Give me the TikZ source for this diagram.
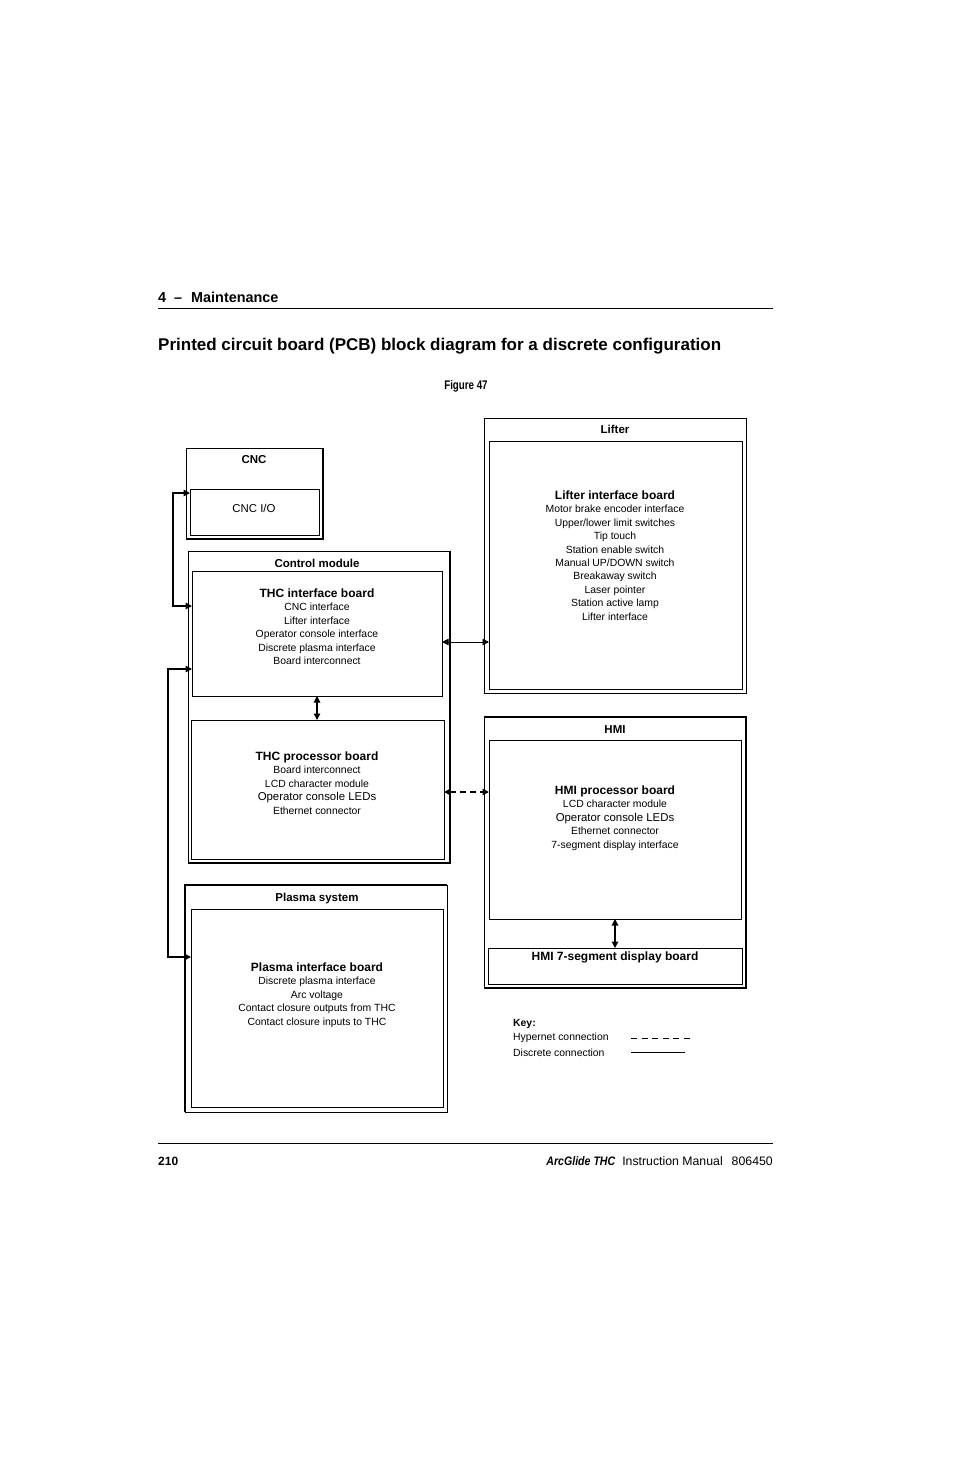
\documentclass[tikz,border=0pt]{standalone}
\usepackage{fontspec}
\setmainfont{Liberation Sans}
\usetikzlibrary{arrows.meta,positioning,calc}

\tikzset{
	board/.style={draw, line width=0.8pt, anchor=north west, inner sep=0pt, outer sep=0pt},
	module/.style={draw, line width=1pt, anchor=north west, inner sep=0pt, outer sep=0pt},
	heavy/.style={line width=2pt},
	boxlabel/.style={font=\fontsize{11.5}{13}\selectfont\bfseries},
	boardtext/.style={anchor=north, align=center, inner sep=0pt, font=\fontsize{10.4}{13.4}\selectfont},
	keytext/.style={anchor=west, inner sep=0pt, font=\fontsize{10.4}{12}\selectfont},
	discrete/.style={line width=1.2pt, {Triangle[length=6.5pt,width=6.5pt]}-{Triangle[length=6.5pt,width=6.5pt]}},
	hypernet/.style={discrete, dash pattern=on 6pt off 4pt},
}
\newcommand{\boardtitle}[1]{{\fontsize{12}{13.4}\selectfont\bfseries #1}}
\newcommand{\bigline}[1]{{\fontsize{11.4}{13.4}\selectfont #1}}

\begin{document}
\begin{tikzpicture}[x=1pt, y=-1pt]
	\fill[white] (0,0) rectangle (954,1475);
	\useasboundingbox (0,0) rectangle (954,1475);
	% page header
	\node[anchor=west, inner sep=0pt, font=\fontsize{14.4}{16}\selectfont\bfseries] (chapter) at (158,297) {4\hspace{8pt}–\hspace{9pt}Maintenance};
	\draw[line width=0.8pt] (158,308) -- (773,308);
	\node[anchor=west, inner sep=0pt, font=\fontsize{17}{20}\selectfont\bfseries] (title) at (158,346.5) {Printed circuit board (PCB) block diagram for a discrete configuration};
	\node[inner sep=0pt, font=\fontsize{12.5}{14}\selectfont\bfseries] (figlabel) at (466,386.5) {\scalebox{0.78}[1]{Figure 47}};
	% outer modules and boards
	\node[module, minimum width=137pt, minimum height=91pt] (cnc) at (186,448) {};
	\node[board, minimum width=129pt, minimum height=46pt] (cncio) at (190,489) {};
	\node[module, minimum width=262pt, minimum height=312pt] (control) at (188,551) {};
	\node[board, minimum width=250pt, minimum height=125pt] (thcif) at (192,571) {};
	\node[board, minimum width=253pt, minimum height=139pt] (thcproc) at (191,720) {};
	\node[module, minimum width=262pt, minimum height=275pt] (lifter) at (484,418) {};
	\node[board, minimum width=253pt, minimum height=248pt] (lifterif) at (489,441) {};
	\node[module, minimum width=262pt, minimum height=271pt] (hmi) at (484,717) {};
	\node[board, minimum width=252pt, minimum height=179pt] (hmiproc) at (489,740) {};
	\node[board, minimum width=254pt, minimum height=36pt] (hmiseg) at (488,948) {};
	\node[module, minimum width=262pt, minimum height=227pt] (plasma) at (185,885) {};
	\node[board, minimum width=252pt, minimum height=198pt] (plasmaif) at (191,909) {};
	% heavy edges
	\draw[heavy] (cnc.north east) -- (cnc.south east) -- (cnc.south west);
	\draw[heavy] (control.north east) -- (control.south east) -- (control.south west);
	\draw[heavy] (hmi.north west) -- (hmi.north east) -- (hmi.south east) -- (hmi.south west);
	\draw[heavy] (plasma.south west) -- (plasma.north west) -- (plasma.north east);
	% labels
	\node[boxlabel] (cnclabel) at (254,459.5) {CNC};
	\node[font=\fontsize{11.4}{13}\selectfont] (cnciotext) at (254,508) {CNC I/O};
	\node[boxlabel] (controllabel) at (317,563.5) {Control module};
	\node[boxlabel] (lifterlabel) at (615,429.5) {Lifter};
	\node[boxlabel] (hmilabel) at (615,729.5) {HMI};
	\node[boxlabel] (plasmalabel) at (317,898.5) {Plasma system};
	\node[font=\fontsize{12}{13}\selectfont\bfseries] (hmisegtext) at (615,957.5) {HMI 7-segment display board};
	\node[boardtext] (thciftext) at (317,588.5) {\boardtitle{THC interface board}\\CNC interface\\Lifter interface\\Operator console interface\\Discrete plasma interface\\Board interconnect};
	\node[boardtext] (thcproctext) at (317,751.5) {\boardtitle{THC processor board}\\Board interconnect\\LCD character module\\\bigline{Operator console LEDs}\\Ethernet connector};
	\node[boardtext] (liftertext) at (615,490.5) {\boardtitle{Lifter interface board}\\Motor brake encoder interface\\Upper/lower limit switches\\Tip touch\\Station enable switch\\Manual UP/DOWN switch\\Breakaway switch\\Laser pointer\\Station active lamp\\Lifter interface};
	\node[boardtext] (hmitext) at (615,785.5) {\boardtitle{HMI processor board}\\LCD character module\\\bigline{Operator console LEDs}\\Ethernet connector\\7-segment display interface};
	\node[boardtext] (plasmatext) at (317,962.5) {\boardtitle{Plasma interface board}\\Discrete plasma interface\\Arc voltage\\Contact closure outputs from THC\\Contact closure inputs to THC};
	% connections
	\draw[discrete, line width=2.2pt] ($(cncio.north west)+(0,4)$) -- ++(-17,0) |- ($(thcif.north west)+(0,35)$);
	\draw[discrete, line width=1.4pt] ($(thcif.north west)+(0,98)$) -- ++(-24,0) |- ($(plasmaif.north west)+(0,48)$);
	\draw[discrete, line width=0.9pt] ($(thcif.north east)+(0,71)$) -- ($(lifterif.north west)+(0,201)$);
	\draw[discrete] (thcif.south) -- (thcif.south |- thcproc.north);
	\draw[hypernet, line width=1.8pt] ($(thcproc.north east)+(0,72)$) -- ($(hmiproc.north west)+(0,52)$);
	\draw[discrete] (hmiproc.south) -- (hmiproc.south |- hmiseg.north);
	% key
	\node[keytext, font=\fontsize{10.4}{12}\selectfont\bfseries] (keytitle) at (513,1023.5) {Key:};
	\node[keytext] (keyhyper) at (513,1038) {Hypernet connection};
	\node[keytext] (keydiscrete) at (513,1053) {Discrete connection};
	\coordinate (hyperstart) at (631,1038);
	\coordinate (hyperend) at (690,1038);
	\coordinate (discstart) at (631,1052.5);
	\coordinate (discend) at (685,1052.5);
	\draw[line width=0.8pt, dash pattern=on 6pt off 4.6pt] (hyperstart) -- (hyperend);
	\draw[line width=0.8pt] (discstart) -- (discend);
	% page footer
	\draw[line width=0.8pt] (158,1143) -- (773,1143);
	\node[anchor=west, inner sep=0pt, font=\fontsize{12}{14}\selectfont\bfseries] (pagenum) at (158,1161) {210};
	\node[anchor=east, inner sep=0pt, font=\fontsize{12.3}{14}\selectfont] (manual) at (773,1161) {\scalebox{0.86}[1]{\bfseries\itshape ArcGlide THC}\hspace{7pt}Instruction Manual\hspace{9pt}806450};
\end{tikzpicture}
\end{document}
